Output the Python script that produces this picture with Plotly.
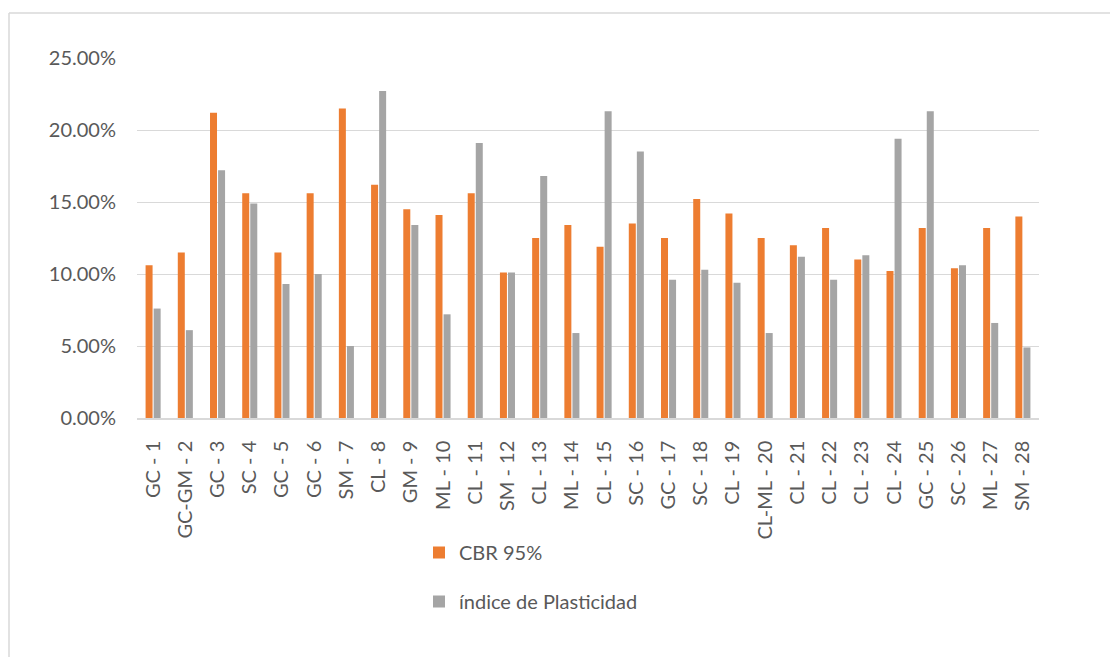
import plotly.graph_objects as go

# Soil samples and their test results (fractions)
categories = [
    "GC - 1", "GC-GM - 2", "GC - 3", "SC - 4", "GC - 5", "GC - 6", "SM - 7",
    "CL - 8", "GM - 9", "ML - 10", "CL - 11", "SM - 12", "CL - 13", "ML - 14",
    "CL - 15", "SC - 16", "GC - 17", "SC - 18", "CL - 19", "CL-ML - 20",
    "CL - 21", "CL - 22", "CL - 23", "CL - 24", "GC - 25", "SC - 26",
    "ML - 27", "SM - 28",
]
cbr_95 = [
    0.106, 0.115, 0.212, 0.156, 0.115, 0.156, 0.215, 0.162, 0.145, 0.141,
    0.156, 0.101, 0.125, 0.134, 0.119, 0.135, 0.125, 0.152, 0.142, 0.125,
    0.120, 0.132, 0.110, 0.102, 0.132, 0.104, 0.132, 0.140,
]
indice_plasticidad = [
    0.076, 0.061, 0.172, 0.149, 0.093, 0.100, 0.050, 0.227, 0.134, 0.072,
    0.191, 0.101, 0.168, 0.059, 0.213, 0.185, 0.096, 0.103, 0.094, 0.059,
    0.112, 0.096, 0.113, 0.194, 0.213, 0.106, 0.066, 0.049,
]
y_ticks = [0, 0.05, 0.10, 0.15, 0.20, 0.25]

W, H = 1110, 657
L, R, T, B = 137, 71, 58, 239
plot_w = W - L - R
plot_h = H - T - B

font_family = "Lato, 'Open Sans', sans-serif"
font_size = 20
text_color = "#595959"
grid_color = "#D9D9D9"

fig = go.Figure()
fig.add_trace(go.Bar(
    x=categories, y=cbr_95, name="CBR 95%",
    marker=dict(color="#ED7D31", line=dict(width=0)),
    legendgroup="a",
))
fig.add_trace(go.Bar(
    x=categories, y=indice_plasticidad, name="índice de Plasticidad",
    marker=dict(color="#A5A5A5", line=dict(width=0)),
    legendgroup="b",
))


def px_to_paper_x(p):
    return (p - L) / plot_w


def px_to_paper_y(p):
    return (H - B - p) / plot_h


# Chart frame: only the top and left edges fall inside the canvas
fig.add_shape(type="line", xref="paper", yref="paper",
              x0=px_to_paper_x(9), x1=px_to_paper_x(W + 5),
              y0=px_to_paper_y(13), y1=px_to_paper_y(13),
              line=dict(color=grid_color, width=1.5))
fig.add_shape(type="line", xref="paper", yref="paper",
              x0=px_to_paper_x(9), x1=px_to_paper_x(9),
              y0=px_to_paper_y(13), y1=px_to_paper_y(H + 5),
              line=dict(color=grid_color, width=1.5))

fig.update_layout(
    width=W, height=H,
    margin=dict(l=L, r=R, t=T, b=B, autoexpand=False),
    paper_bgcolor="white", plot_bgcolor="white",
    barmode="group", bargap=0.5, bargroupgap=0.13,
    font=dict(family=font_family, size=font_size, color=text_color),
    showlegend=True,
    legend=dict(
        x=px_to_paper_x(419), y=px_to_paper_y(533),
        xanchor="left", yanchor="top",
        orientation="v", traceorder="grouped", tracegroupgap=20,
        font=dict(family=font_family, size=font_size, color=text_color),
        bgcolor="rgba(0,0,0,0)",
    ),
    xaxis=dict(
        type="category", tickangle=-90, showgrid=False,
        showline=True, linecolor=grid_color, linewidth=1.5,
        ticks="", ticklabelstandoff=13,
        tickfont=dict(family=font_family, size=font_size, color=text_color),
    ),
    yaxis=dict(
        range=[0, 0.25], tickvals=y_ticks, tickformat=".2%",
        showgrid=True, gridcolor=grid_color, gridwidth=1,
        zeroline=False, showline=False, ticks="",
        ticklabelstandoff=20,
        tickfont=dict(family=font_family, size=font_size, color=text_color),
    ),
)

fig.write_html("out.html")
